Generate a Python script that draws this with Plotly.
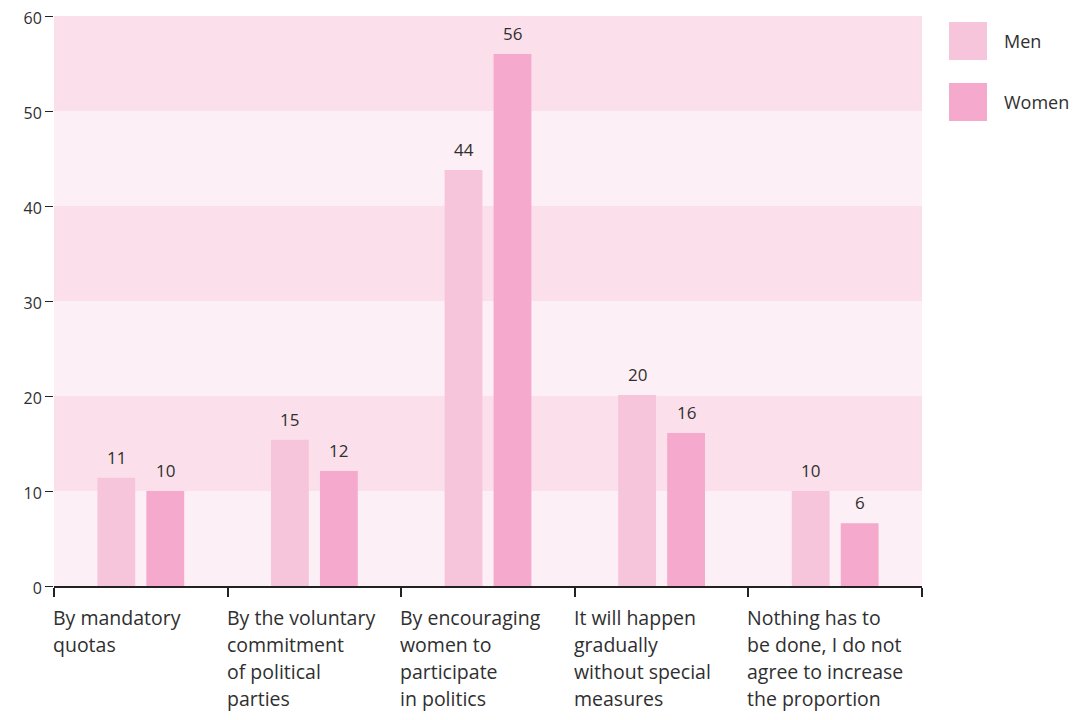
import plotly.graph_objects as go

categories = [
    "By mandatory<br>quotas",
    "By the voluntary<br>commitment<br>of political<br>parties",
    "By encouraging<br>women to<br>participate<br>in politics",
    "It will happen<br>gradually<br>without special<br>measures",
    "Nothing has to<br>be done, I do not<br>agree to increase<br>the proportion",
]
series_names = ["Men", "Women"]
men = [11.4, 15.4, 43.8, 20.1, 10.0]
women = [10.0, 12.1, 56.0, 16.1, 6.6]
men_labels = ["11", "15", "44", "20", "10"]
women_labels = ["10", "12", "56", "16", "6"]
y_ticks = [0, 10, 20, 30, 40, 50, 60]

colors = ["#f7c5db", "#f5aacd"]
band_dark = "#fbe0eb"
band_light = "#fdeff6"
text_col = "#2f2f2f"
font = "Open Sans"

bar_w = 0.218
offsets = [-0.25, 0.032]

x = list(range(len(categories)))

fig = go.Figure()
annotations = []
for name, vals, labs, col, off in zip(series_names, [men, women], [men_labels, women_labels], colors, offsets):
    fig.add_trace(go.Bar(
        x=x, y=vals, name=name, marker_color=col, marker_line_width=0,
        width=bar_w, offset=off, showlegend=False))
    for xi, v, lab in zip(x, vals, labs):
        annotations.append(dict(xref="x", yref="y", x=xi + off + bar_w / 2, y=v, text=lab,
                                showarrow=False, yanchor="bottom", yshift=7,
                                font=dict(size=17, color=text_col, family=font)))

# plot area in window pixels (the page adds an 8px body margin)
OFF = 8
FIG_W, FIG_H = 1072, 704
L, R, T, B = 54, 922, 16, 586
W, H = R - L, B - T

# alternating horizontal bands
shapes = []
for i, lo in enumerate(y_ticks[:-1]):
    shapes.append(dict(type="rect", xref="paper", yref="y", x0=0, x1=1, y0=lo, y1=y_ticks[i + 1],
                       fillcolor=band_light if i % 2 == 0 else band_dark, line_width=0, layer="below"))

# custom legend with big squares
for i, (name, col) in enumerate(zip(series_names, colors)):
    top = 22 + i * 61
    shapes.append(dict(type="rect", xref="paper", yref="paper",
                       x0=(949 - L) / W, x1=(987 - L) / W,
                       y0=1 - (top - T) / H, y1=1 - (top + 38 - T) / H,
                       fillcolor=col, line_width=0))
    annotations.append(dict(xref="paper", yref="paper", x=(1002 - L) / W, y=1 - (top + 19 - T) / H,
                            text=name, showarrow=False, xanchor="left", yanchor="middle",
                            font=dict(size=18, color=text_col, family=font)))

# category labels, left aligned at each category's left boundary
for i, cat in enumerate(categories):
    for j, line in enumerate(cat.split("<br>")):
        annotations.append(dict(xref="x", yref="paper", x=i - 0.5, y=0, yshift=-16 - 27 * j,
                                text=line, showarrow=False, xanchor="left", yanchor="top", xshift=-3,
                                font=dict(size=19.5, color=text_col, family=font)))

fig.update_layout(
    width=FIG_W, height=FIG_H, autosize=False,
    plot_bgcolor="white", paper_bgcolor="white",
    margin=dict(l=L - OFF, r=OFF + FIG_W - R, t=T - OFF, b=OFF + FIG_H - B),
    barmode="overlay",
    shapes=shapes, annotations=annotations,
    font=dict(family=font, color=text_col),
)
fig.update_xaxes(
    range=[-0.5, len(categories) - 0.5], automargin=False,
    tickvals=[i - 0.5 for i in range(len(categories) + 1)], ticktext=[""] * (len(categories) + 1),
    ticks="outside", ticklen=9, tickwidth=2, tickcolor="#222",
    showline=True, linecolor="#222", linewidth=2, showgrid=False, zeroline=False,
)
fig.update_yaxes(
    range=[0, 60], tickvals=y_ticks, ticks="outside", ticklen=8, tickwidth=1, tickcolor="#222",
    tickfont=dict(size=16, color=text_col, family=font), ticklabeloverflow="allow", automargin=False,
    ticklabelshift=2, showgrid=False, zeroline=False, showline=False,
)

fig.write_html("out.html")
